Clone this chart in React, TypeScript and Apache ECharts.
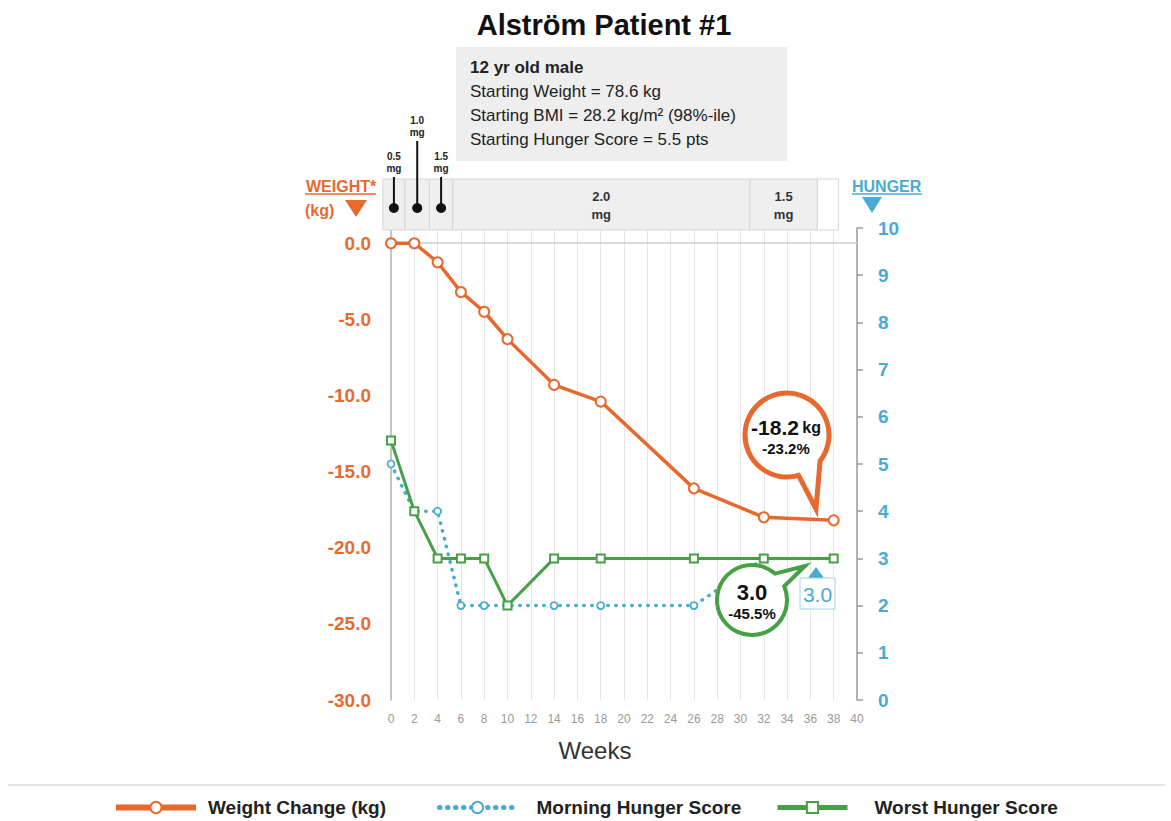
import React, { useEffect, useRef } from 'react';
import * as echarts from 'echarts';

// ---------- data ----------
const weeks = [0, 2, 4, 6, 8, 10, 14, 18, 26, 32, 38];
const weightChange = [0.0, 0.0, -1.25, -3.2, -4.5, -6.3, -9.3, -10.4, -16.1, -18.0, -18.2];
const morningHunger = [5.0, 4.0, 4.0, 2.0, 2.0, 2.0, 2.0, 2.0, 2.0, 3.0, 3.0];
const worstHunger = [5.5, 4.0, 3.0, 3.0, 3.0, 2.0, 3.0, 3.0, 3.0, 3.0, 3.0];

// dose schedule (weeks)
const doseStart = [-0.7, 1.2, 3.3, 5.3, 30.8, 36.6];
const doseEnd = [1.2, 3.3, 5.3, 30.8, 36.6, 38.4];
const doseCellLabels = ['', '', '', '2.0\nmg', '1.5\nmg', ''];
const dosePinLabels = ['0.5\nmg', '1.0\nmg', '1.5\nmg', '', '', ''];
const dosePinTall = [false, true, false, false, false, false];
const doseShaded = [true, true, true, true, true, false];

const infoLines = [
  '12 yr old male',
  'Starting Weight = 78.6 kg',
  'Starting BMI = 28.2 kg/m² (98%-ile)',
  'Starting Hunger Score = 5.5 pts',
];

const seriesNames = ['Weight Change (kg)', 'Morning Hunger Score', 'Worst Hunger Score'];

// ---------- styles ----------
const ORANGE = '#E8692E';
const GREEN = '#45A046';
const BLUE = '#4AABD2';
const SANS = '"Liberation Sans", Arial, Helvetica, sans-serif';
const NARROW = '"Liberation Sans Narrow", "Arial Narrow", "Liberation Sans", Arial, sans-serif';

function bubblePath(cx: number, cy: number, r: number, a1: number, a2: number, tx: number, ty: number) {
  const rad = (a: number) => (a * Math.PI) / 180;
  const p1x = cx + r * Math.cos(rad(a1));
  const p1y = cy + r * Math.sin(rad(a1));
  const p2x = cx + r * Math.cos(rad(a2));
  const p2y = cy + r * Math.sin(rad(a2));
  return `M ${p2x} ${p2y} A ${r} ${r} 0 1 1 ${p1x} ${p1y} L ${tx} ${ty} Z`;
}

echarts.graphic.registerShape('bubbleOrange', echarts.graphic.extendPath(bubblePath(787, 435, 42, 38, 74, 816, 509), {}) as any);
echarts.graphic.registerShape('bubbleGreen', echarts.graphic.extendPath(bubblePath(752, 600, 35, -49, -23, 805, 566), {}) as any);

export default function App() {
  const ref = useRef<HTMLDivElement>(null);

  useEffect(() => {
    if (!ref.current) return;
    const chart = echarts.init(ref.current, undefined, { renderer: 'svg' });

    const txt = (x: number, y: number, text: string, extra: any, z = 10) => ({
      type: 'text',
      x,
      y,
      z,
      silent: true,
      style: { text, ...extra },
    });

    const graphic: any[] = [
      txt(604, 25, 'Alström Patient #1', {
        fontSize: 29, fontWeight: 'bold', fontFamily: SANS, fill: '#111',
        align: 'center', textAlign: 'center', verticalAlign: 'middle', textVerticalAlign: 'middle',
      }),
      { type: 'rect', silent: true, shape: { x: 456, y: 47, width: 331, height: 114 }, style: { fill: '#eeeeee' } },
      ...infoLines.map((t, i) =>
        txt(470, 67 + i * 24, t, {
          fontSize: 17, fontWeight: i === 0 ? 'bold' : 'normal', fontFamily: SANS, fill: '#222',
          align: 'left', textAlign: 'left', verticalAlign: 'middle', textVerticalAlign: 'middle',
        })
      ),
      // left header
      txt(306, 186, 'WEIGHT*', {
        fontSize: 16, fontWeight: 'bold', fontFamily: SANS, fill: ORANGE,
        align: 'left', textAlign: 'left', verticalAlign: 'middle', textVerticalAlign: 'middle',
      }),
      { type: 'line', silent: true, shape: { x1: 305, y1: 194, x2: 376, y2: 194 }, style: { stroke: ORANGE, lineWidth: 1.5 } },
      txt(305, 210, '(kg)', {
        fontSize: 16, fontWeight: 'bold', fontFamily: SANS, fill: ORANGE,
        align: 'left', textAlign: 'left', verticalAlign: 'middle', textVerticalAlign: 'middle',
      }),
      { type: 'polygon', silent: true, shape: { points: [[345, 200], [367, 200], [356, 217]] }, style: { fill: ORANGE } },
      // right header
      txt(852, 186, 'HUNGER', {
        fontSize: 16, fontWeight: 'bold', fontFamily: SANS, fill: BLUE,
        align: 'left', textAlign: 'left', verticalAlign: 'middle', textVerticalAlign: 'middle',
      }),
      { type: 'line', silent: true, shape: { x1: 852, y1: 194, x2: 922, y2: 194 }, style: { stroke: BLUE, lineWidth: 1.5 } },
      { type: 'polygon', silent: true, shape: { points: [[862, 197], [882, 197], [872, 213]] }, style: { fill: BLUE } },
      // x axis name
      txt(595, 750, 'Weeks', {
        fontSize: 24, fontFamily: SANS, fill: '#333',
        align: 'center', textAlign: 'center', verticalAlign: 'middle', textVerticalAlign: 'middle',
      }),
      // orange callout
      { type: 'bubbleOrange', silent: true, z: 20, style: { fill: '#fff', stroke: ORANGE, lineWidth: 5 } },
      {
        type: 'text', silent: true, z: 21, x: 786, y: 437,
        style: {
          text: '{a|-18.2} {b|kg}\n{c|-23.2%}',
          align: 'center', textAlign: 'center', verticalAlign: 'middle', textVerticalAlign: 'middle',
          rich: {
            a: { fontSize: 21, fontWeight: 'bold', fontFamily: NARROW, fill: '#111', lineHeight: 23 },
            b: { fontSize: 16, fontWeight: 'bold', fontFamily: NARROW, fill: '#111', lineHeight: 23 },
            c: { fontSize: 15, fontWeight: 'bold', fontFamily: NARROW, fill: '#111', lineHeight: 20 },
          },
        },
      },
      // green callout
      { type: 'bubbleGreen', silent: true, z: 20, style: { fill: '#fff', stroke: GREEN, lineWidth: 4 } },
      {
        type: 'text', silent: true, z: 21, x: 752, y: 602,
        style: {
          text: '{a|3.0}\n{c|-45.5%}',
          align: 'center', textAlign: 'center', verticalAlign: 'middle', textVerticalAlign: 'middle',
          rich: {
            a: { fontSize: 22, fontWeight: 'bold', fontFamily: NARROW, fill: '#111', lineHeight: 22 },
            c: { fontSize: 15, fontWeight: 'bold', fontFamily: NARROW, fill: '#111', lineHeight: 20 },
          },
        },
      },
      // blue value tag
      { type: 'polygon', silent: true, z: 20, shape: { points: [[808, 578], [824, 578], [816, 567]] }, style: { fill: BLUE } },
      { type: 'rect', silent: true, z: 20, shape: { x: 800, y: 578, width: 35, height: 31 }, style: { fill: '#fff', stroke: '#9fd2e6', lineWidth: 1 } },
      txt(817.5, 594, '3.0', {
        fontSize: 21, fontFamily: NARROW, fill: BLUE,
        align: 'center', textAlign: 'center', verticalAlign: 'middle', textVerticalAlign: 'middle',
      }, 21),
      // legend separator
      { type: 'line', silent: true, shape: { x1: 8, y1: 785, x2: 1165, y2: 785 }, style: { stroke: '#dddddd', lineWidth: 1.5 } },
    ];

    const legendText = { fontSize: 19, fontWeight: 'bold', fontFamily: SANS, color: '#222' };

    const option: any = {
      animation: false,
      backgroundColor: '#ffffff',
      grid: { left: 391, right: 314, top: 228, bottom: 121, containLabel: false },
      xAxis: {
        type: 'value',
        min: 0,
        max: 40,
        interval: 2,
        axisLine: { show: true, lineStyle: { color: '#cfcfd4', width: 1.5 } },
        axisTick: { show: false },
        axisLabel: { color: '#9a9a9a', fontSize: 12, fontFamily: NARROW, margin: 13 },
        splitLine: { show: true, lineStyle: { color: '#e6e6e6', width: 1 } },
      },
      yAxis: [
        {
          type: 'value',
          position: 'left',
          min: -30,
          max: 1,
          interval: 5,
          axisLine: { show: true, lineStyle: { color: '#b4b4bc', width: 1.5 } },
          axisTick: { show: false },
          splitLine: { show: false },
          axisLabel: {
            color: ORANGE,
            fontSize: 19,
            fontWeight: 'bold',
            fontFamily: NARROW,
            margin: 20,
            formatter: (v: number) => (v > 0 ? '' : v.toFixed(1)),
          },
        },
        {
          type: 'value',
          position: 'right',
          min: 0,
          max: 10,
          interval: 1,
          axisLine: { show: true, lineStyle: { color: '#9a9aa6', width: 1.5 } },
          axisTick: { show: true, length: 6, lineStyle: { color: '#9a9aa6', width: 1.5 } },
          splitLine: { show: false },
          axisLabel: { color: BLUE, fontSize: 19, fontWeight: 'bold', fontFamily: NARROW, margin: 21 },
        },
      ],
      legend: [
        {
          data: [seriesNames[0]], left: 108, top: 793, itemWidth: 80, itemHeight: 14,
          lineStyle: { width: 6 }, textStyle: { ...legendText, padding: [0, 0, 0, 7] },
        },
        {
          data: [seriesNames[1]], left: 432, top: 793, itemWidth: 76, itemHeight: 14,
          lineStyle: { width: 5 }, textStyle: { ...legendText, padding: [0, 0, 0, 16] },
        },
        {
          data: [seriesNames[2]], left: 770, top: 793, itemWidth: 70, itemHeight: 14,
          lineStyle: { width: 5 }, textStyle: { ...legendText, padding: [0, 0, 0, 22] },
        },
      ],
      graphic,
      series: [
        {
          type: 'custom',
          name: 'dose',
          xAxisIndex: 0,
          yAxisIndex: 1,
          clip: false,
          silent: true,
          z: 1,
          data: doseStart.map((s, i) => [s, doseEnd[i], 0]),
          renderItem: (params: any, api: any) => {
            const i = params.dataIndex;
            const x0 = api.coord([doseStart[i], 0])[0];
            const x1 = api.coord([doseEnd[i], 0])[0];
            const top = params.coordSys.y - 49;
            const children: any[] = [
              {
                type: 'rect',
                shape: { x: x0, y: top, width: x1 - x0, height: 51 },
                style: { fill: doseShaded[i] ? '#efefef' : '#ffffff', stroke: '#d6d6d6', lineWidth: 1 },
              },
            ];
            const cx = (x0 + x1) / 2;
            if (doseCellLabels[i]) {
              children.push({
                type: 'text', x: cx, y: top + 26,
                style: {
                  text: doseCellLabels[i], fill: '#333', fontSize: 13, fontWeight: 'bold', fontFamily: NARROW,
                  lineHeight: 18, align: 'center', textAlign: 'center', verticalAlign: 'middle', textVerticalAlign: 'middle',
                },
              });
            }
            if (dosePinLabels[i]) {
              const lineTop = dosePinTall[i] ? top - 38 : top - 2;
              children.push({ type: 'line', shape: { x1: cx, y1: top + 29, x2: cx, y2: lineTop }, style: { stroke: '#111', lineWidth: 2 } });
              children.push({ type: 'circle', shape: { cx, cy: top + 29, r: 5 }, style: { fill: '#111' } });
              children.push({
                type: 'text', x: cx, y: lineTop - 3,
                style: {
                  text: dosePinLabels[i], fill: '#222', fontSize: 10, fontWeight: 'bold', fontFamily: NARROW,
                  lineHeight: 12, align: 'center', textAlign: 'center', verticalAlign: 'bottom', textVerticalAlign: 'bottom',
                },
              });
            }
            return { type: 'group', children };
          },
        },
        {
          type: 'line',
          name: seriesNames[1],
          yAxisIndex: 1,
          z: 3,
          data: weeks.map((w, i) => [w, morningHunger[i]]),
          symbol: 'circle',
          symbolSize: 7,
          itemStyle: { color: '#ffffff', borderColor: BLUE, borderWidth: 1.8 },
          lineStyle: { color: BLUE, width: 3.5, type: [0.5, 7.5], cap: 'round' },
        },
        {
          type: 'line',
          name: seriesNames[2],
          yAxisIndex: 1,
          z: 4,
          data: weeks.map((w, i) => [w, worstHunger[i]]),
          symbol: 'rect',
          symbolSize: 8,
          itemStyle: { color: '#ffffff', borderColor: GREEN, borderWidth: 2 },
          lineStyle: { color: GREEN, width: 3 },
        },
        {
          type: 'line',
          name: seriesNames[0],
          yAxisIndex: 0,
          z: 5,
          data: weeks.map((w, i) => [w, weightChange[i]]),
          symbol: 'circle',
          symbolSize: 10,
          itemStyle: { color: '#ffffff', borderColor: ORANGE, borderWidth: 2 },
          lineStyle: { color: ORANGE, width: 3.5 },
        },
      ],
    };

    chart.setOption(option);
    return () => chart.dispose();
  }, []);

  return (
    <div
      ref={ref}
      style={{ position: 'fixed', left: 0, top: 0, width: 1171, height: 821, background: '#fff' }}
    />
  );
}
